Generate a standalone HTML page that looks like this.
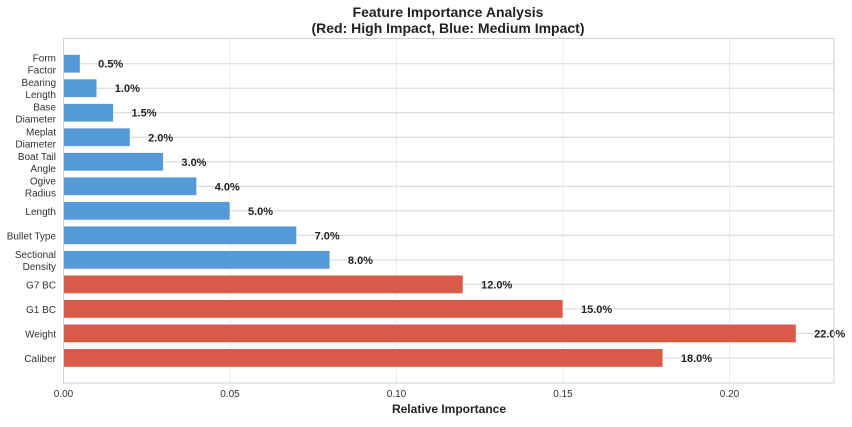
<!DOCTYPE html>
<html><head><meta charset="utf-8"><style>body{margin:0;background:#fff}</style></head><body>
<svg width="852" height="422" xmlns="http://www.w3.org/2000/svg" font-family="Liberation Sans, sans-serif">
<rect width="852" height="422" fill="#fff"/>
<text x="448" y="17" text-anchor="middle" font-size="14" font-weight="bold" fill="#222">Feature Importance Analysis</text>
<text x="448" y="33" text-anchor="middle" font-size="14" font-weight="bold" fill="#222">(Red: High Impact, Blue: Medium Impact)</text>
<g stroke="#ebebeb" stroke-width="1">
<line x1="230" y1="38.5" x2="230" y2="383"/><line x1="396.5" y1="38.5" x2="396.5" y2="383"/><line x1="563" y1="38.5" x2="563" y2="383"/><line x1="729.5" y1="38.5" x2="729.5" y2="383"/>
</g>
<g stroke="#dcdcdc" stroke-width="1.2" id="h"></g>
<g id="bars"></g>
<rect x="63.5" y="38.5" width="770.5" height="344.5" fill="none" stroke="#d0d0d0" stroke-width="1"/>
<g font-size="10" fill="#333" text-anchor="middle">
<text x="63.5" y="397">0.00</text><text x="230" y="397">0.05</text><text x="396.5" y="397">0.10</text><text x="563" y="397">0.15</text><text x="729.5" y="397">0.20</text>
</g>
<text x="449" y="413" text-anchor="middle" font-size="12" font-weight="bold" fill="#222">Relative Importance</text>
<script>
var d=[["Form","Factor",0.005,0],["Bearing","Length",0.01,0],["Base","Diameter",0.015,0],["Meplat","Diameter",0.02,0],["Boat Tail","Angle",0.03,0],["Ogive","Radius",0.04,0],["Length","",0.05,0],["Bullet Type","",0.07,0],["Sectional","Density",0.08,0],["G7 BC","",0.12,1],["G1 BC","",0.15,1],["Weight","",0.22,1],["Caliber","",0.18,1]];
var ns="http://www.w3.org/2000/svg",h=document.getElementById("h"),b=document.getElementById("bars"),svg=document.querySelector("svg");
function el(p,t,a,txt){var e=document.createElementNS(ns,t);for(var k in a)e.setAttribute(k,a[k]);if(txt)e.textContent=txt;p.appendChild(e);return e;}
d.forEach(function(r,i){var c=63.7+i*24.52,w=r[2]*3330;
el(h,"line",{x1:63.5,x2:834,y1:c,y2:c});
el(b,"rect",{x:63.5,y:c-9.2,width:w,height:18.4,fill:r[3]?"#d85a49":"#5599d8",stroke:"#fff","stroke-width":0.6});
el(b,"text",{x:63.5+w+18,y:c+4,"font-size":11,"font-weight":"bold",fill:"#222"},(r[2]*100).toFixed(1)+"%");
if(r[1]){el(b,"text",{x:56,y:c-2,"font-size":10,fill:"#333","text-anchor":"end"},r[0]);el(b,"text",{x:56,y:c+10,"font-size":10,fill:"#333","text-anchor":"end"},r[1]);}
else el(b,"text",{x:56,y:c+4,"font-size":10,fill:"#333","text-anchor":"end"},r[0]);
});
</script>
</svg>
</body></html>
